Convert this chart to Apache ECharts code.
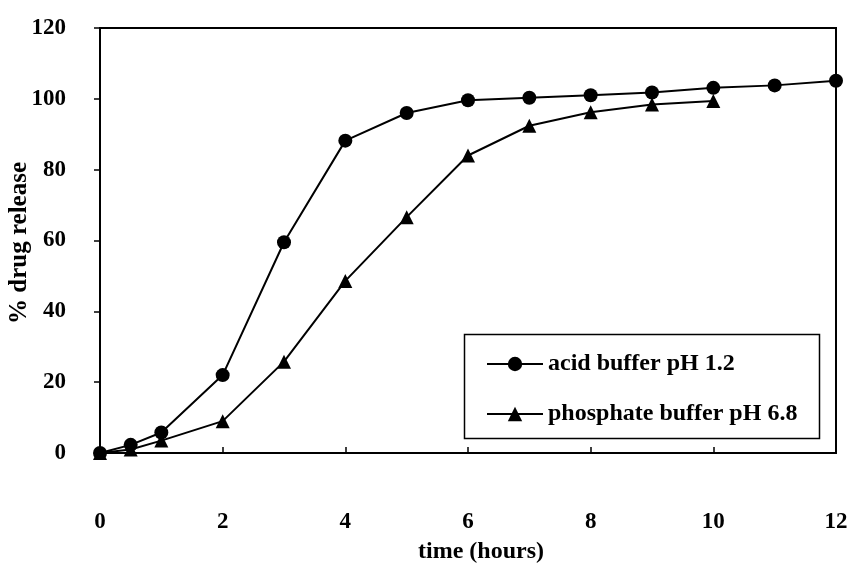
<!DOCTYPE html>
<html>
<head>
<meta charset="utf-8">
<script src="https://cdn.jsdelivr.net/npm/echarts@6/dist/echarts.min.js"></script>
<style>html,body{margin:0;padding:0;background:#fff}#c{width:861px;height:565px}</style>
</head>
<body>
<div id="c"></div>
<script>
const acidHours = [0, 0.5, 1, 2, 3, 4, 5, 6, 7, 8, 9, 10, 11, 12];
const acidValues = [0, 2.3, 5.8, 22, 59.5, 88.2, 96, 99.6, 100.3, 101, 101.8, 103.1, 103.8, 105.1];
const phosHours = [0, 0.5, 1, 2, 3, 4, 5, 6, 7, 8, 9, 10];
const phosValues = [0, 1, 3.5, 9, 25.8, 48.6, 66.6, 84, 92.4, 96.2, 98.4, 99.4];
const seriesNames = ['acid buffer pH 1.2', 'phosphate buffer pH 6.8'];
const xTitle = 'time (hours)';
const yTitle = '% drug release';

const FONT = '"Liberation Serif", "Times New Roman", serif';
const chart = echarts.init(document.getElementById('c'), null, {renderer: 'canvas'});
const pair = (xs, ys) => xs.map((x, i) => [x, ys[i]]);

chart.setOption({
  animation: false,
  backgroundColor: '#fff',
  grid: {left: 100, right: 25, top: 28, bottom: 112, show: true, borderColor: '#000', borderWidth: 2, backgroundColor: 'transparent'},
  xAxis: {
    type: 'value', min: 0, max: 12, interval: 2,
    axisLine: {lineStyle: {color: '#000', width: 2}},
    axisTick: {inside: true, length: 6, lineStyle: {color: '#000', width: 1.5}},
    splitLine: {show: false},
    axisLabel: {margin: 58, color: '#000', fontFamily: FONT, fontSize: 23, fontWeight: 'bold'}
  },
  yAxis: {
    type: 'value', min: 0, max: 120, interval: 20,
    axisLine: {lineStyle: {color: '#000', width: 2}},
    axisTick: {inside: false, length: 6, lineStyle: {color: '#000', width: 1.5}},
    splitLine: {show: false},
    axisLabel: {margin: 34, color: '#000', fontFamily: FONT, fontSize: 23, fontWeight: 'bold'}
  },
  legend: {
    orient: 'vertical', left: 481, top: 347, itemWidth: 56, itemHeight: 18, itemGap: 26,
    textStyle: {color: '#000', fontFamily: FONT, fontSize: 24, fontWeight: 'bold'},
    data: seriesNames
  },
  graphic: [
    {type: 'rect', left: 462, top: 332, shape: {width: 355, height: 104}, style: {fill: 'none', stroke: '#000', lineWidth: 1.5}, z: 10},
    {type: 'text', style: {text: xTitle, fill: '#000', font: 'bold 24px ' + FONT, textAlign: 'center', textVerticalAlign: 'middle'}, x: 481, y: 552, z: 10},
    {type: 'text', style: {text: yTitle, fill: '#000', font: 'bold 25px ' + FONT, textAlign: 'center', textVerticalAlign: 'middle'}, x: 20, y: 243, rotation: Math.PI / 2, z: 10}
  ],
  series: [
    {name: seriesNames[0], type: 'line', data: pair(acidHours, acidValues), symbol: 'circle', symbolSize: 14,
     lineStyle: {color: '#000', width: 2}, itemStyle: {color: '#000'}},
    {name: seriesNames[1], type: 'line', data: pair(phosHours, phosValues), symbol: 'triangle', symbolSize: 14,
     lineStyle: {color: '#000', width: 2}, itemStyle: {color: '#000'}}
  ]
});
</script>
</body>
</html>
